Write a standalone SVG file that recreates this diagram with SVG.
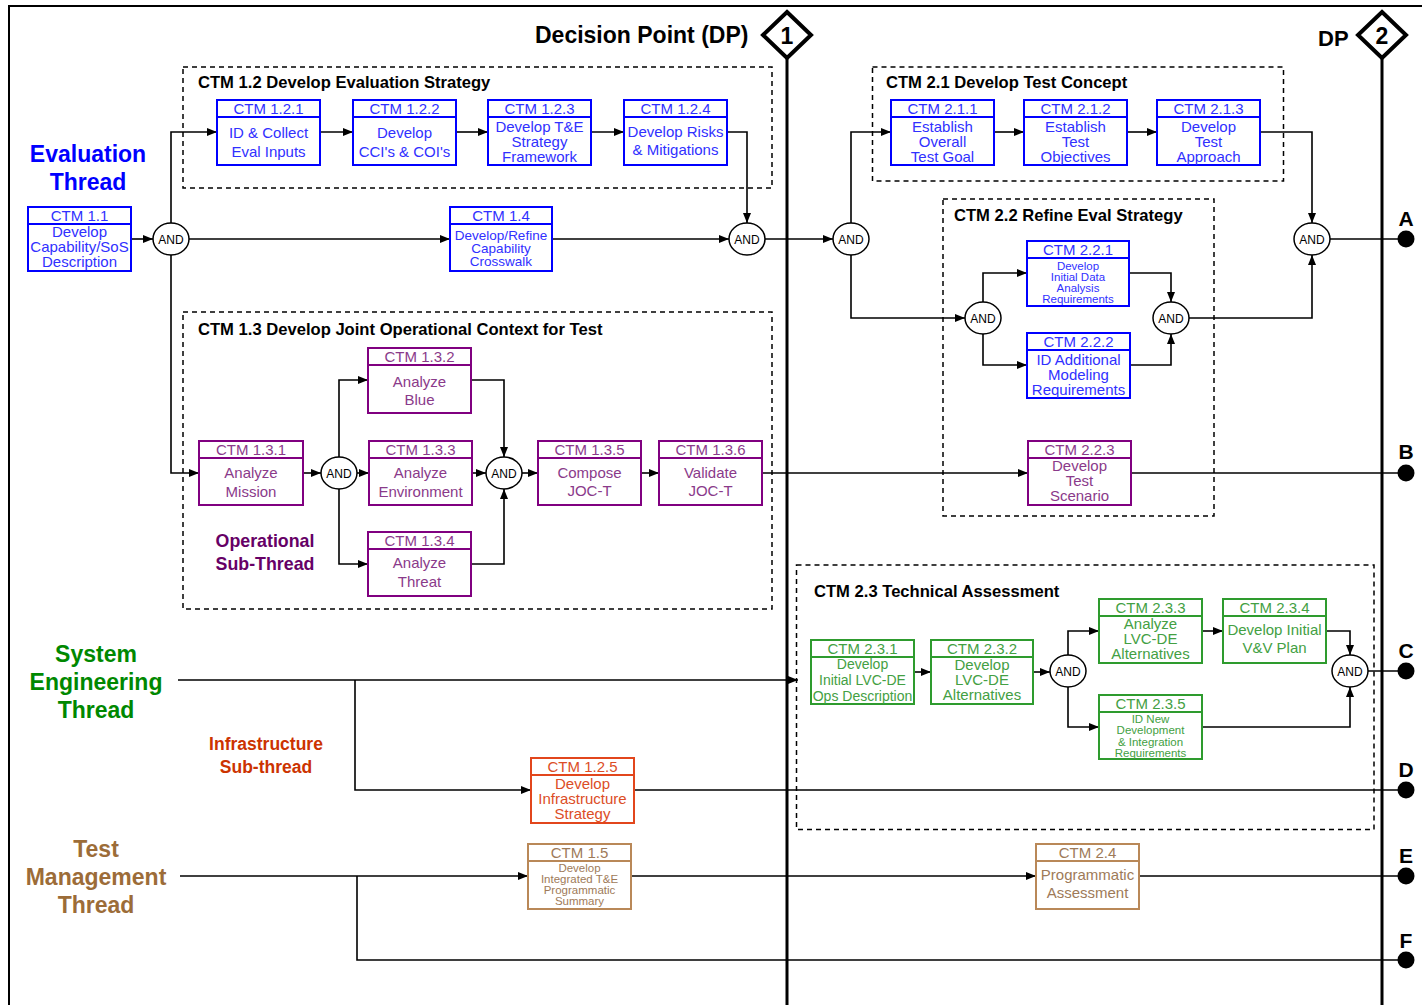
<svg xmlns="http://www.w3.org/2000/svg" width="1422" height="1005" viewBox="0 0 1422 1005">
  <defs>
    <marker id="arr" viewBox="0 0 10 8" refX="10" refY="4" markerWidth="10" markerHeight="8" markerUnits="userSpaceOnUse" orient="auto">
      <path d="M0,0 L10,4 L0,8 Z" fill="#000"/>
    </marker>
    <style>
      text { font-family: "Liberation Sans", Arial, sans-serif; }
      .frame { stroke: #000; stroke-width: 2; fill: none; }
      .dpline { stroke: #000; stroke-width: 3; fill: none; }
      .diamond { stroke: #000; stroke-width: 4; fill: #fff; stroke-linejoin: miter; }
      .dptxt { font-weight: bold; font-size: 23px; fill: #000; }
      .grp { fill: none; stroke: #000; stroke-width: 1.5; stroke-dasharray: 5 4; }
      .gt { font-weight: bold; font-size: 16.6px; fill: #000; }
      .node rect { fill: #fff; stroke-width: 2; }
      .node line { stroke-width: 2; }
      .node text { text-anchor: middle; font-size: 15px; }
      .node text.s { font-size: 11.5px; }
      .blue rect, .blue line { stroke: #0000ff; }
      .blue text { fill: #3030ff; }
      .purple rect, .purple line { stroke: #800080; }
      .purple text { fill: #8a3a8a; }
      .green rect, .green line { stroke: #2e9b2e; }
      .green text { fill: #43a043; }
      .orange rect, .orange line { stroke: #e2461c; }
      .orange text { fill: #dc4d26; }
      .brown rect, .brown line { stroke: #b98858; }
      .brown text { fill: #9e7a58; }
      .and ellipse { fill: #fff; stroke: #000; stroke-width: 1.5; }
      .and text { font-size: 12px; text-anchor: middle; fill: #000; }
      .conn path { fill: none; stroke: #000; stroke-width: 1.6; }
      .dot circle { fill: #000; }
      .dot text { font-weight: bold; font-size: 21px; text-anchor: middle; fill: #000; }
      .thread { font-weight: bold; font-size: 23px; text-anchor: middle; }
      .sub { font-weight: bold; font-size: 17.8px; text-anchor: middle; }
    </style>
  </defs>

  <rect width="1422" height="1005" fill="#fff"/>

  <!-- outer frame (top and left edges) -->
  <path class="frame" d="M9,1005 V6 H1422"/>

  <!-- decision point lines -->
  <g id="dp1">
    <line class="dpline" x1="787" y1="58" x2="787" y2="1005"/>
    <path class="diamond" d="M787,12 L811,35 L787,58 L763,35 Z"/>
    <text class="dptxt" x="787" y="44" text-anchor="middle">1</text>
    <text class="dptxt" x="535" y="43">Decision Point (DP)</text>
  </g>
  <g id="dp2">
    <line class="dpline" x1="1382" y1="58" x2="1382" y2="1005"/>
    <path class="diamond" d="M1382,12 L1406,35 L1382,58 L1358,35 Z"/>
    <text class="dptxt" x="1382" y="44" text-anchor="middle">2</text>
    <text class="dptxt" x="1318" y="46" style="font-size:22px">DP</text>
  </g>

  <!-- dashed activity groups -->
  <g id="groups">
    <rect class="grp" x="183" y="67" width="589" height="121"/>
    <text class="gt" x="198" y="88">CTM 1.2 Develop Evaluation Strategy</text>
    <rect class="grp" x="183" y="312" width="589" height="297"/>
    <text class="gt" x="198" y="335">CTM 1.3 Develop Joint Operational Context for Test</text>
    <rect class="grp" x="872.5" y="67" width="411" height="114"/>
    <text class="gt" x="886" y="88">CTM 2.1 Develop Test Concept</text>
    <rect class="grp" x="943" y="199" width="271" height="317"/>
    <text class="gt" x="954" y="221">CTM 2.2 Refine Eval Strategy</text>
    <rect class="grp" x="796.5" y="565" width="577.5" height="264.5"/>
    <text class="gt" x="814" y="597">CTM 2.3 Technical Assessment</text>
  </g>

  <!-- thread labels -->
  <g id="labels">
    <text class="thread" x="88" y="162" fill="#0000ff">Evaluation</text>
    <text class="thread" x="88" y="190" fill="#0000ff">Thread</text>
    <text class="thread" x="96" y="662" fill="#008800">System</text>
    <text class="thread" x="96" y="690" fill="#008800">Engineering</text>
    <text class="thread" x="96" y="718" fill="#008800">Thread</text>
    <text class="thread" x="96" y="857" fill="#9c6c38">Test</text>
    <text class="thread" x="96" y="885" fill="#9c6c38">Management</text>
    <text class="thread" x="96" y="913" fill="#9c6c38">Thread</text>
    <text class="sub" x="265" y="547" fill="#660066">Operational</text>
    <text class="sub" x="265" y="570" fill="#660066">Sub-Thread</text>
    <text class="sub" x="266" y="750" fill="#cc3300" style="font-size:17.5px">Infrastructure</text>
    <text class="sub" x="266" y="773" fill="#cc3300" style="font-size:17.5px">Sub-thread</text>
  </g>

  <!-- connectors -->
  <g id="connectors" class="conn">
    <path d="M131,239 H153" marker-end="url(#arr)"/>
    <path d="M171,223 V132 H217" marker-end="url(#arr)"/>
    <path d="M189,239 H450" marker-end="url(#arr)"/>
    <path d="M171,255 V473 H199" marker-end="url(#arr)"/>
    <path d="M320,132 H353" marker-end="url(#arr)"/>
    <path d="M456,132 H488" marker-end="url(#arr)"/>
    <path d="M591,132 H624" marker-end="url(#arr)"/>
    <path d="M727,132 H747 V223" marker-end="url(#arr)"/>
    <path d="M552,239 H729" marker-end="url(#arr)"/>
    <path d="M765,239 H833" marker-end="url(#arr)"/>
    <path d="M851,223 V132 H891" marker-end="url(#arr)"/>
    <path d="M994,132 H1024" marker-end="url(#arr)"/>
    <path d="M1127,132 H1157" marker-end="url(#arr)"/>
    <path d="M1260,132 H1312 V223" marker-end="url(#arr)"/>
    <path d="M851,255 V318 H965" marker-end="url(#arr)"/>
    <path d="M983,302 V273 H1027" marker-end="url(#arr)"/>
    <path d="M983,334 V365 H1027" marker-end="url(#arr)"/>
    <path d="M1129,273 H1171 V302" marker-end="url(#arr)"/>
    <path d="M1130,365 H1171 V334" marker-end="url(#arr)"/>
    <path d="M1189,318 H1312 V255" marker-end="url(#arr)"/>
    <path d="M1330,239 H1406"/>
    <path d="M303,473 H321" marker-end="url(#arr)"/>
    <path d="M339,457 V380 H368" marker-end="url(#arr)"/>
    <path d="M357,473 H369" marker-end="url(#arr)"/>
    <path d="M339,489 V564 H368" marker-end="url(#arr)"/>
    <path d="M471,380 H504 V457" marker-end="url(#arr)"/>
    <path d="M472,473 H486" marker-end="url(#arr)"/>
    <path d="M471,564 H504 V489" marker-end="url(#arr)"/>
    <path d="M522,473 H538" marker-end="url(#arr)"/>
    <path d="M641,473 H659" marker-end="url(#arr)"/>
    <path d="M762,473 H1028" marker-end="url(#arr)"/>
    <path d="M1131,473 H1406"/>
    <path d="M178,680 H798" marker-end="url(#arr)"/>
    <path d="M355,680 V790 H531" marker-end="url(#arr)"/>
    <path d="M634,790 H1406"/>
    <path d="M914,672 H931" marker-end="url(#arr)"/>
    <path d="M1033,672 H1050" marker-end="url(#arr)"/>
    <path d="M1068,656 V631 H1099" marker-end="url(#arr)"/>
    <path d="M1068,687 V727 H1099" marker-end="url(#arr)"/>
    <path d="M1202,631 H1223" marker-end="url(#arr)"/>
    <path d="M1326,631 H1350 V655" marker-end="url(#arr)"/>
    <path d="M1202,727 H1350 V687" marker-end="url(#arr)"/>
    <path d="M1368,671 H1406"/>
    <path d="M180,876 H528" marker-end="url(#arr)"/>
    <path d="M357,876 V960 H1406"/>
    <path d="M631,876 H1036" marker-end="url(#arr)"/>
    <path d="M1139,876 H1406"/>
  </g>

  <!-- AND junctions -->
  <g id="and-1" class="and"><ellipse cx="171" cy="239" rx="18" ry="16"/><text x="171" y="243.5">AND</text></g>
  <g id="and-2" class="and"><ellipse cx="747" cy="239" rx="18" ry="16"/><text x="747" y="243.5">AND</text></g>
  <g id="and-3" class="and"><ellipse cx="851" cy="239" rx="18" ry="16"/><text x="851" y="243.5">AND</text></g>
  <g id="and-4" class="and"><ellipse cx="1312" cy="239" rx="18" ry="16"/><text x="1312" y="243.5">AND</text></g>
  <g id="and-5" class="and"><ellipse cx="983" cy="318" rx="18" ry="16"/><text x="983" y="322.5">AND</text></g>
  <g id="and-6" class="and"><ellipse cx="1171" cy="318" rx="18" ry="16"/><text x="1171" y="322.5">AND</text></g>
  <g id="and-7" class="and"><ellipse cx="339" cy="473" rx="18" ry="16"/><text x="339" y="477.5">AND</text></g>
  <g id="and-8" class="and"><ellipse cx="504" cy="473" rx="18" ry="16"/><text x="504" y="477.5">AND</text></g>
  <g id="and-9" class="and"><ellipse cx="1068" cy="671" rx="18" ry="16"/><text x="1068" y="675.5">AND</text></g>
  <g id="and-10" class="and"><ellipse cx="1350" cy="671" rx="18" ry="16"/><text x="1350" y="675.5">AND</text></g>

  <!-- evaluation thread activities -->
  <g id="ctm-1-1" class="node blue">
    <rect x="28" y="207" width="103" height="64"/><line x1="28" y1="224" x2="131" y2="224"/>
    <text x="79.5" y="221">CTM 1.1</text>
    <text x="79.5" y="237">Develop</text><text x="79.5" y="252">Capability/SoS</text><text x="79.5" y="267">Description</text>
  </g>
  <g id="ctm-1-2-1" class="node blue">
    <rect x="217" y="100" width="103" height="65"/><line x1="217" y1="117" x2="320" y2="117"/>
    <text x="268.5" y="114">CTM 1.2.1</text>
    <text x="268.5" y="138">ID &amp; Collect</text><text x="268.5" y="157">Eval Inputs</text>
  </g>
  <g id="ctm-1-2-2" class="node blue">
    <rect x="353" y="100" width="103" height="65"/><line x1="353" y1="117" x2="456" y2="117"/>
    <text x="404.5" y="114">CTM 1.2.2</text>
    <text x="404.5" y="138">Develop</text><text x="404.5" y="157">CCI's &amp; COI's</text>
  </g>
  <g id="ctm-1-2-3" class="node blue">
    <rect x="488" y="100" width="103" height="65"/><line x1="488" y1="117" x2="591" y2="117"/>
    <text x="539.5" y="114">CTM 1.2.3</text>
    <text x="539.5" y="132">Develop T&amp;E</text><text x="539.5" y="147">Strategy</text><text x="539.5" y="162">Framework</text>
  </g>
  <g id="ctm-1-2-4" class="node blue">
    <rect x="624" y="100" width="103" height="65"/><line x1="624" y1="117" x2="727" y2="117"/>
    <text x="675.5" y="114">CTM 1.2.4</text>
    <text x="675.5" y="137">Develop Risks</text><text x="675.5" y="155">&amp; Mitigations</text>
  </g>
  <g id="ctm-1-4" class="node blue">
    <rect x="450" y="207" width="102" height="64"/><line x1="450" y1="224" x2="552" y2="224"/>
    <text x="501" y="221">CTM 1.4</text>
    <text x="501" y="240" style="font-size:13.5px">Develop/Refine</text><text x="501" y="253" style="font-size:13.5px">Capability</text><text x="501" y="266" style="font-size:13.5px">Crosswalk</text>
  </g>
  <g id="ctm-2-1-1" class="node blue">
    <rect x="891" y="100" width="103" height="65"/><line x1="891" y1="117" x2="994" y2="117"/>
    <text x="942.5" y="114">CTM 2.1.1</text>
    <text x="942.5" y="132">Establish</text><text x="942.5" y="147">Overall</text><text x="942.5" y="162">Test Goal</text>
  </g>
  <g id="ctm-2-1-2" class="node blue">
    <rect x="1024" y="100" width="103" height="65"/><line x1="1024" y1="117" x2="1127" y2="117"/>
    <text x="1075.5" y="114">CTM 2.1.2</text>
    <text x="1075.5" y="132">Establish</text><text x="1075.5" y="147">Test</text><text x="1075.5" y="162">Objectives</text>
  </g>
  <g id="ctm-2-1-3" class="node blue">
    <rect x="1157" y="100" width="103" height="65"/><line x1="1157" y1="117" x2="1260" y2="117"/>
    <text x="1208.5" y="114">CTM 2.1.3</text>
    <text x="1208.5" y="132">Develop</text><text x="1208.5" y="147">Test</text><text x="1208.5" y="162">Approach</text>
  </g>
  <g id="ctm-2-2-1" class="node blue">
    <rect x="1027" y="241" width="102" height="65"/><line x1="1027" y1="258" x2="1129" y2="258"/>
    <text x="1078" y="255">CTM 2.2.1</text>
    <text class="s" x="1078" y="270"><tspan x="1078" y="270">Develop</tspan><tspan x="1078" y="281">Initial Data</tspan><tspan x="1078" y="292">Analysis</tspan><tspan x="1078" y="303">Requirements</tspan></text>
  </g>
  <g id="ctm-2-2-2" class="node blue">
    <rect x="1027" y="333" width="103" height="65"/><line x1="1027" y1="350" x2="1130" y2="350"/>
    <text x="1078.5" y="347">CTM 2.2.2</text>
    <text x="1078.5" y="365">ID Additional</text><text x="1078.5" y="380">Modeling</text><text x="1078.5" y="395">Requirements</text>
  </g>

  <!-- operational sub-thread activities -->
  <g id="ctm-1-3-1" class="node purple">
    <rect x="199" y="441" width="104" height="64"/><line x1="199" y1="458" x2="303" y2="458"/>
    <text x="251" y="455">CTM 1.3.1</text>
    <text x="251" y="478">Analyze</text><text x="251" y="497">Mission</text>
  </g>
  <g id="ctm-1-3-2" class="node purple">
    <rect x="368" y="348" width="103" height="65"/><line x1="368" y1="365" x2="471" y2="365"/>
    <text x="419.5" y="362">CTM 1.3.2</text>
    <text x="419.5" y="387">Analyze</text><text x="419.5" y="405">Blue</text>
  </g>
  <g id="ctm-1-3-3" class="node purple">
    <rect x="369" y="441" width="103" height="64"/><line x1="369" y1="458" x2="472" y2="458"/>
    <text x="420.5" y="455">CTM 1.3.3</text>
    <text x="420.5" y="478">Analyze</text><text x="420.5" y="497">Environment</text>
  </g>
  <g id="ctm-1-3-4" class="node purple">
    <rect x="368" y="532" width="103" height="64"/><line x1="368" y1="549" x2="471" y2="549"/>
    <text x="419.5" y="546">CTM 1.3.4</text>
    <text x="419.5" y="568">Analyze</text><text x="419.5" y="587">Threat</text>
  </g>
  <g id="ctm-1-3-5" class="node purple">
    <rect x="538" y="441" width="103" height="64"/><line x1="538" y1="458" x2="641" y2="458"/>
    <text x="589.5" y="455">CTM 1.3.5</text>
    <text x="589.5" y="478">Compose</text><text x="589.5" y="496">JOC-T</text>
  </g>
  <g id="ctm-1-3-6" class="node purple">
    <rect x="659" y="441" width="103" height="64"/><line x1="659" y1="458" x2="762" y2="458"/>
    <text x="710.5" y="455">CTM 1.3.6</text>
    <text x="710.5" y="478">Validate</text><text x="710.5" y="496">JOC-T</text>
  </g>
  <g id="ctm-2-2-3" class="node purple">
    <rect x="1028" y="441" width="103" height="64"/><line x1="1028" y1="458" x2="1131" y2="458"/>
    <text x="1079.5" y="455">CTM 2.2.3</text>
    <text x="1079.5" y="471">Develop</text><text x="1079.5" y="486">Test</text><text x="1079.5" y="501">Scenario</text>
  </g>

  <!-- system engineering thread activities -->
  <g id="ctm-1-2-5" class="node orange">
    <rect x="531" y="758" width="103" height="65"/><line x1="531" y1="775" x2="634" y2="775"/>
    <text x="582.5" y="772">CTM 1.2.5</text>
    <text x="582.5" y="789">Develop</text><text x="582.5" y="804">Infrastructure</text><text x="582.5" y="819">Strategy</text>
  </g>
  <g id="ctm-2-3-1" class="node green">
    <rect x="811" y="640" width="103" height="64"/><line x1="811" y1="657" x2="914" y2="657"/>
    <text x="862.5" y="654">CTM 2.3.1</text>
    <text x="862.5" y="669" style="font-size:14px">Develop</text><text x="862.5" y="685" style="font-size:14px">Initial LVC-DE</text><text x="862.5" y="701" style="font-size:14px">Ops Description</text>
  </g>
  <g id="ctm-2-3-2" class="node green">
    <rect x="931" y="640" width="102" height="64"/><line x1="931" y1="657" x2="1033" y2="657"/>
    <text x="982" y="654">CTM 2.3.2</text>
    <text x="982" y="670">Develop</text><text x="982" y="685">LVC-DE</text><text x="982" y="700">Alternatives</text>
  </g>
  <g id="ctm-2-3-3" class="node green">
    <rect x="1099" y="599" width="103" height="64"/><line x1="1099" y1="616" x2="1202" y2="616"/>
    <text x="1150.5" y="613">CTM 2.3.3</text>
    <text x="1150.5" y="629">Analyze</text><text x="1150.5" y="644">LVC-DE</text><text x="1150.5" y="659">Alternatives</text>
  </g>
  <g id="ctm-2-3-4" class="node green">
    <rect x="1223" y="599" width="103" height="64"/><line x1="1223" y1="616" x2="1326" y2="616"/>
    <text x="1274.5" y="613">CTM 2.3.4</text>
    <text x="1274.5" y="635">Develop Initial</text><text x="1274.5" y="653">V&amp;V Plan</text>
  </g>
  <g id="ctm-2-3-5" class="node green">
    <rect x="1099" y="695" width="103" height="64"/><line x1="1099" y1="712" x2="1202" y2="712"/>
    <text x="1150.5" y="709">CTM 2.3.5</text>
    <text class="s" x="1150.5" y="723"><tspan x="1150.5" y="723">ID New</tspan><tspan x="1150.5" y="734">Development</tspan><tspan x="1150.5" y="745.5">&amp; Integration</tspan><tspan x="1150.5" y="756.5">Requirements</tspan></text>
  </g>

  <!-- test management thread activities -->
  <g id="ctm-1-5" class="node brown">
    <rect x="528" y="844" width="103" height="65"/><line x1="528" y1="861" x2="631" y2="861"/>
    <text x="579.5" y="858">CTM 1.5</text>
    <text class="s" x="579.5" y="872"><tspan x="579.5" y="872">Develop</tspan><tspan x="579.5" y="883">Integrated T&amp;E</tspan><tspan x="579.5" y="894">Programmatic</tspan><tspan x="579.5" y="905">Summary</tspan></text>
  </g>
  <g id="ctm-2-4" class="node brown">
    <rect x="1036" y="844" width="103" height="65"/><line x1="1036" y1="861" x2="1139" y2="861"/>
    <text x="1087.5" y="858">CTM 2.4</text>
    <text x="1087.5" y="880">Programmatic</text><text x="1087.5" y="898">Assessment</text>
  </g>

  <!-- thread end points -->
  <g id="end-a" class="dot"><circle cx="1406" cy="239" r="8.5"/><text x="1406" y="226">A</text></g>
  <g id="end-b" class="dot"><circle cx="1406" cy="473" r="8.5"/><text x="1406" y="459">B</text></g>
  <g id="end-c" class="dot"><circle cx="1406" cy="671" r="8.5"/><text x="1406" y="658">C</text></g>
  <g id="end-d" class="dot"><circle cx="1406" cy="790" r="8.5"/><text x="1406" y="777">D</text></g>
  <g id="end-e" class="dot"><circle cx="1406" cy="876" r="8.5"/><text x="1406" y="863">E</text></g>
  <g id="end-f" class="dot"><circle cx="1406" cy="960" r="8.5"/><text x="1406" y="948">F</text></g>
</svg>
